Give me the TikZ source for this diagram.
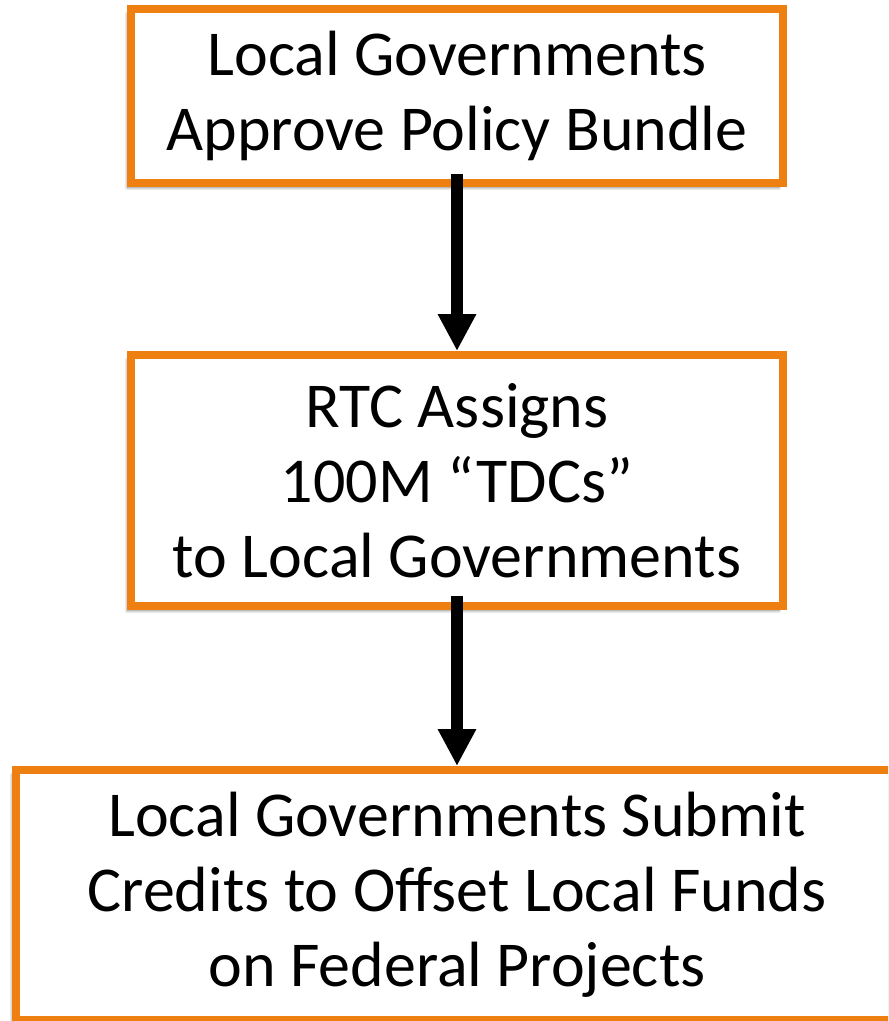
\documentclass[tikz,border=0pt]{standalone}
\usepackage{fontspec}
\setmainfont{Carlito}
\usetikzlibrary{positioning,arrows.meta,shadows.blur}

\definecolor{boxorange}{RGB}{238,128,18}

\begin{document}
\begin{tikzpicture}[
    stepbox/.style={draw=boxorange, line width=0.2cm, fill=white, rectangle, align=center,
        minimum width=16.3cm, font=\fontsize{45.5}{53.4}\selectfont,
        blur shadow={shadow xshift=-0.1cm, shadow yshift=-0.12cm, shadow blur steps=6, shadow opacity=45}},
    flow/.style={line width=0.3cm, -{Triangle[width=0.9cm, length=0.925cm]}}
]
    % Frame
    \useasboundingbox (0,0) rectangle (22.2,-25.525);
    \clip (0,0) rectangle (22.2,-25.525);

    % Nodes
    \node[stepbox, minimum height=4.35cm] (approve) at (11.425,-2.4) {Local Governments\\Approve Policy Bundle};
    \node[stepbox, minimum height=6.275cm, below=4.1cm of approve] (assign) {RTC Assigns\\100M “TDCs”\\to Local Governments};
    \node[stepbox, minimum height=6.25cm, minimum width=22.05cm, below=3.9cm of assign] (submit) {Local Governments Submit\\Credits to Offset Local Funds\\on Federal Projects};

    % Arrows
    \draw[flow] ([yshift=0.325cm]approve.south) -- (assign.north);
    \draw[flow] ([yshift=0.35cm]assign.south) -- (submit.north);
\end{tikzpicture}
\end{document}
